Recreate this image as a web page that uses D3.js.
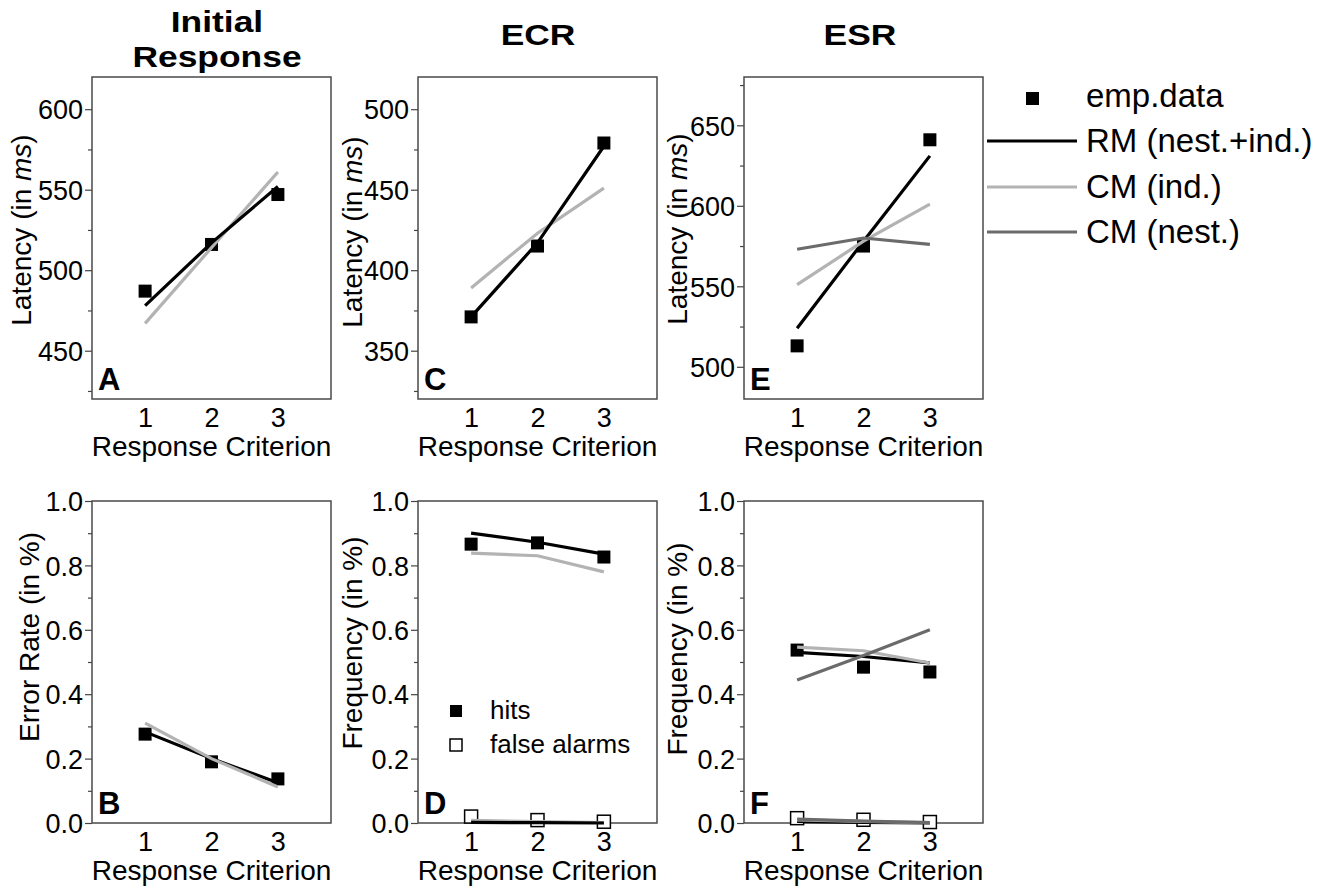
<!DOCTYPE html>
<html>
<head>
<meta charset="utf-8">
<script src="https://cdn.jsdelivr.net/npm/d3@7"></script>
<style>
  html, body { margin: 0; padding: 0; background: #fff; }
  svg { display: block; }
  text { font-family: "Liberation Sans", Arial, sans-serif; fill: #000; }
</style>
</head>
<body>
<svg id="chart" width="1331" height="888"></svg>
<script>
// ---------------- data ----------------
const criteria = [1, 2, 3];
const latencyTicksA = [450, 500, 550, 600];
const latencyTicksC = [350, 400, 450, 500];
const latencyTicksE = [500, 550, 600, 650];
const rateTicks = [0, 0.2, 0.4, 0.6, 0.8, 1.0];

// Panel A - Initial response latency
const aEmp = [487, 516, 547];
const aRM = [478, 517, 552];
const aCMind = [467, 514, 561];
// Panel C - ECR latency
const cEmp = [371, 415, 479];
const cRM = [371, 417, 477];
const cCMind = [389, 423, 451];
// Panel E - ESR latency
const eEmp = [513, 575, 641];
const eRM = [524, 578, 631];
const eCMind = [551, 578, 601];
const eCMnest = [573, 580, 576];
// Panel B - error rate
const bEmp = [0.276, 0.19, 0.137];
const bRM = [0.283, 0.2, 0.125];
const bCMind = [0.31, 0.2, 0.112];
// Panel D - ECR hits / false alarms
const dHitsEmp = [0.866, 0.87, 0.826];
const dHitsRM = [0.90, 0.872, 0.835];
const dHitsCMind = [0.838, 0.83, 0.78];
const dFAEmp = [0.02, 0.009, 0.004];
const dFARM = [0.002, 0.001, 0.0];
const dFACMind = [0.008, 0.004, 0.001];
// Panel F - ESR hits / false alarms
const fHitsEmp = [0.537, 0.484, 0.469];
const fHitsRM = [0.53, 0.517, 0.497];
const fHitsCMind = [0.546, 0.535, 0.497];
const fHitsCMnest = [0.444, 0.52, 0.6];
const fFAEmp = [0.015, 0.01, 0.003];
const fFARM = [0.005, 0.002, 0.0];
const fFACMind = [0.01, 0.005, 0.001];
const fFACMnest = [0.012, 0.006, 0.001];

const legendLabels = ["emp.data", "RM (nest.+ind.)", "CM (ind.)", "CM (nest.)"];
const columnTitles = [["Initial", "Response"], ["ECR"], ["ESR"]];

// ---------------- styles ----------------
const COL = { rm: "#000000", cmInd: "#b3b3b3", cmNest: "#6b6b6b" };
const FONT = "'Liberation Sans', Arial, sans-serif";

const svg = d3.select("#chart");

function panel(cfg) {
  const g = svg.append("g").attr("transform", `translate(${cfg.x},${cfg.y})`);
  const W = 239, H = 322;
  const x = d3.scaleLinear().domain([0.2, 3.8]).range([0, W]);
  const y = d3.scaleLinear().domain(cfg.domain).range([H, 0]);

  // minor ticks
  const minor = g.append("g").call(d3.axisLeft(y).tickValues(cfg.minor).tickSize(4).tickFormat(""));
  minor.select(".domain").remove();
  minor.selectAll("line").attr("stroke", "#444").attr("stroke-width", 1.2);
  // major ticks
  const major = g.append("g").call(d3.axisLeft(y).tickValues(cfg.ticks).tickSize(7).tickPadding(2).tickFormat(cfg.fmt));
  major.select(".domain").remove();
  major.selectAll("line").attr("stroke", "#444").attr("stroke-width", 1.2);
  major.selectAll("text").attr("font-size", 27).attr("font-family", FONT).attr("fill", "#000").attr("dy", "0.36em");

  // x tick labels
  const xa = g.append("g").attr("transform", `translate(0,${H})`)
    .call(d3.axisBottom(x).tickValues(criteria).tickSize(0).tickPadding(9).tickFormat(d3.format("d")));
  xa.select(".domain").remove();
  xa.selectAll("text").attr("font-size", 27).attr("font-family", FONT).attr("fill", "#000").attr("dy", "0.71em");

  // frame
  g.append("rect").attr("x", 0).attr("y", 0).attr("width", W).attr("height", H)
    .attr("fill", "none").attr("stroke", "#4a4a4a").attr("stroke-width", 1.5);

  // x axis label
  g.append("text").attr("x", W / 2).attr("y", H + 57).attr("text-anchor", "middle")
    .attr("font-size", 28).text("Response Criterion");

  // y axis label
  const yl = g.append("text")
    .attr("transform", `translate(${cfg.ylx},${cfg.yly}) rotate(-90)`)
    .attr("text-anchor", "middle").attr("dy", "0.35em").attr("font-size", 28);
  cfg.ylabel.forEach(p => yl.append("tspan").attr("font-style", p[1] ? "italic" : "normal").text(p[0]));

  // panel letter
  g.append("text").attr("x", 6).attr("y", H - 9).attr("font-size", 31).attr("font-weight", "bold").text(cfg.letter);

  const marks = g.append("g");
  // squares
  cfg.points.forEach(pt => {
    marks.selectAll(null).data(pt.values).enter().append("rect")
      .attr("x", (d, i) => x(criteria[i]) - 6.5).attr("y", d => y(d) - 6.5)
      .attr("width", 13).attr("height", 13)
      .attr("fill", pt.open ? "#fff" : "#000").attr("stroke", "#000").attr("stroke-width", pt.open ? 1.5 : 0);
  });
  // lines
  const line = d3.line().x((d, i) => x(criteria[i])).y(d => y(d));
  cfg.lines.forEach(ln => {
    marks.append("path").datum(ln.values).attr("d", line)
      .attr("fill", "none").attr("stroke", ln.color).attr("stroke-width", 3.2);
  });
  return { g, x, y };
}

const latMinorA = [425, 475, 525, 575];
const latMinorC = [325, 375, 425, 475];
const latMinorE = [525, 575, 625, 675];
const rateMinor = [0.1, 0.3, 0.5, 0.7, 0.9];
const latLabel = [["Latency (in "], ["ms", true], [")"]];
const fmt0 = d3.format("d"), fmt1 = d3.format(".1f");

panel({ x: 92, y: 77, domain: [420, 620], ticks: latencyTicksA, minor: latMinorA, fmt: fmt0,
  ylabel: latLabel, ylx: -71, yly: 153, letter: "A",
  points: [{ values: aEmp }],
  lines: [{ values: aCMind, color: COL.cmInd }, { values: aRM, color: COL.rm }] });
panel({ x: 418, y: 77, domain: [320, 520], ticks: latencyTicksC, minor: latMinorC, fmt: fmt0,
  ylabel: latLabel, ylx: -66, yly: 155, letter: "C",
  points: [{ values: cEmp }],
  lines: [{ values: cCMind, color: COL.cmInd }, { values: cRM, color: COL.rm }] });
panel({ x: 744, y: 77, domain: [480, 680], ticks: latencyTicksE, minor: latMinorE, fmt: fmt0,
  ylabel: latLabel, ylx: -67, yly: 152, letter: "E",
  points: [{ values: eEmp }],
  lines: [{ values: eRM, color: COL.rm }, { values: eCMind, color: COL.cmInd }, { values: eCMnest, color: COL.cmNest }] });

panel({ x: 92, y: 501, domain: [0, 1], ticks: rateTicks, minor: rateMinor, fmt: fmt1,
  ylabel: [["Error Rate (in %)"]], ylx: -63, yly: 136, letter: "B",
  points: [{ values: bEmp }],
  lines: [{ values: bRM, color: COL.rm }, { values: bCMind, color: COL.cmInd }] });
const pD = panel({ x: 418, y: 501, domain: [0, 1], ticks: rateTicks, minor: rateMinor, fmt: fmt1,
  ylabel: [["Frequency (in %)"]], ylx: -66, yly: 142, letter: "D",
  points: [{ values: dHitsEmp }, { values: dFAEmp, open: true }],
  lines: [{ values: dHitsRM, color: COL.rm }, { values: dHitsCMind, color: COL.cmInd },
          { values: dFACMind, color: COL.cmInd }, { values: dFARM, color: COL.rm }] });
panel({ x: 744, y: 501, domain: [0, 1], ticks: rateTicks, minor: rateMinor, fmt: fmt1,
  ylabel: [["Frequency (in %)"]], ylx: -67, yly: 148, letter: "F",
  points: [{ values: fHitsEmp }, { values: fFAEmp, open: true }],
  lines: [{ values: fHitsRM, color: COL.rm }, { values: fHitsCMind, color: COL.cmInd }, { values: fHitsCMnest, color: COL.cmNest },
          { values: fFARM, color: COL.rm }, { values: fFACMind, color: COL.cmInd }, { values: fFACMnest, color: COL.cmNest }] });

// hits / false alarms legend in D
const dl = pD.g.append("g");
[["hits", false], ["false alarms", true]].forEach((r, i) => {
  dl.append("rect").attr("x", 32).attr("y", 204 + i * 34).attr("width", 12).attr("height", 12)
    .attr("fill", r[1] ? "#fff" : "#000").attr("stroke", "#000").attr("stroke-width", r[1] ? 1.5 : 0);
  dl.append("text").attr("x", 72).attr("y", 218 + i * 34).attr("font-size", 26).text(r[0]);
});

// column titles (glyphs slightly widened, as in the original)
const titleX = [217, 538, 860];
columnTitles.forEach((lines, i) => {
  const baselines = lines.length === 2 ? [32, 67] : [45];
  lines.forEach((s, j) => {
    svg.append("text")
      .attr("transform", `translate(${titleX[i]},${baselines[j]}) scale(1.18,1)`)
      .attr("text-anchor", "middle").attr("font-weight", "bold").attr("font-size", 30).text(s);
  });
});

// main legend
const lg = svg.append("g");
const legendBase = [107, 152, 198, 243];
lg.append("rect").attr("x", 1026).attr("y", 92).attr("width", 13).attr("height", 13).attr("fill", "#000");
[COL.rm, COL.cmInd, COL.cmNest].forEach((c, i) => {
  lg.append("line").attr("x1", 987).attr("x2", 1077)
    .attr("y1", legendBase[i + 1] - 11).attr("y2", legendBase[i + 1] - 11)
    .attr("stroke", c).attr("stroke-width", 3.2);
});
legendLabels.forEach((s, i) => {
  lg.append("text").attr("x", 1086).attr("y", legendBase[i]).attr("font-size", 33).text(s);
});
</script>
</body>
</html>
